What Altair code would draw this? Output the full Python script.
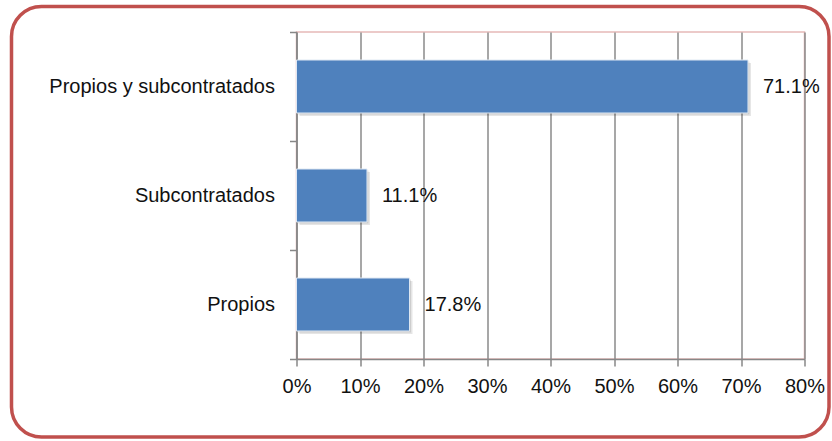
import altair as alt
import pandas as pd

categories = ["Propios y subcontratados", "Subcontratados", "Propios"]
values = [71.1, 11.1, 17.8]
labels = [f"{v:.1f}%" for v in values]
tick_values = [0, 10, 20, 30, 40, 50, 60, 70, 80]

df = pd.DataFrame({"cat": categories, "val": values, "lab": labels})

FONT = "Liberation Sans Narrow, Liberation Sans, Arial"
FS = 20

y_enc = alt.Y("cat:N", sort=categories,
              scale=alt.Scale(paddingInner=0, paddingOuter=0),
              axis=alt.Axis(title=None, tickBand="extent", grid=False,
                            domainColor="#878787", domainWidth=1.5,
                            tickColor="#878787", tickWidth=1.5, tickSize=7,
                            labelPadding=15, labelFont=FONT, labelFontSize=FS,
                            labelColor="#111111", labelLimit=400))
x_enc = alt.X("val:Q", scale=alt.Scale(domain=[0, 80], nice=False),
              axis=alt.Axis(title=None, values=tick_values,
                            labelExpr="datum.value + '%'",
                            labelAlign="center", labelFlush=False,
                            labelOverlap=False,
                            grid=True, gridColor="#8a8a8a", gridWidth=1.5,
                            domainColor="#878787", domainWidth=1.5,
                            tickColor="#878787", tickWidth=1.5, tickSize=7,
                            labelPadding=10, labelFont=FONT, labelFontSize=FS,
                            labelColor="#111111"))

base = alt.Chart(df)

shadow1 = base.mark_bar(size=53, color="#000000", opacity=0.10,
                        xOffset=3, yOffset=3).encode(x=x_enc, y=y_enc)
shadow2 = base.mark_bar(size=53, color="#000000", opacity=0.10,
                        xOffset=1.5, yOffset=1.5).encode(x="val:Q", y=alt.Y("cat:N", sort=categories))
bars = base.mark_bar(size=53, color="#4F81BD", stroke="#dfe8f3",
                     strokeWidth=1).encode(x="val:Q", y=alt.Y("cat:N", sort=categories))
text = base.mark_text(align="left", baseline="middle", dx=15, font=FONT,
                      fontSize=FS, color="#111111").encode(
    x="val:Q", y=alt.Y("cat:N", sort=categories), text="lab:N")

border = alt.Chart(pd.DataFrame({"a": [0]})).mark_rect(
    fill="transparent", stroke="#C0504D", strokeWidth=3.5, cornerRadius=30
).encode(x=alt.value(-285), x2=alt.value(532.5),
         y=alt.value(-25.5), y2=alt.value(405))

chart = alt.layer(shadow1, shadow2, bars, text, border).properties(
    width=508, height=327,
    autosize=alt.AutoSizeParams(type="none"),
    padding={"left": 296.5, "top": 32, "right": 27.5, "bottom": 82},
    background="white",
).configure_view(stroke="#E6B9B8", strokeWidth=1.5)

chart.save("out.html", embed_options={"renderer": "svg", "actions": False})
